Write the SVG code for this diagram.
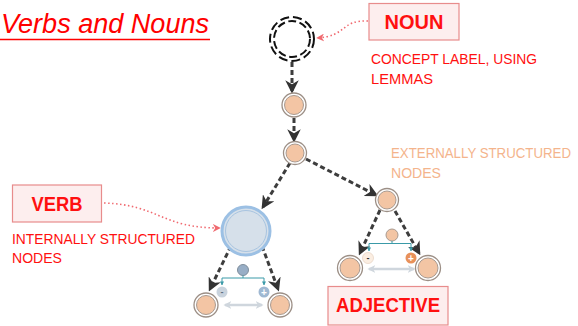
<svg xmlns="http://www.w3.org/2000/svg" width="578" height="326" viewBox="0 0 578 326">
  <defs>
    <marker id="ah" viewBox="0 0 10 10" refX="8" refY="5" markerWidth="4.5" markerHeight="4.5" orient="auto" markerUnits="strokeWidth">
      <path d="M0,0 L10,5 L0,10 L3,5 Z" fill="#333333"/>
    </marker>
    <marker id="ahr" viewBox="0 0 10 10" refX="9" refY="5" markerWidth="8" markerHeight="8" orient="auto" markerUnits="userSpaceOnUse">
      <path d="M0,0 L10,5 L0,10 L3,5 Z" fill="#f06a70"/>
    </marker>
    <marker id="aht" viewBox="0 0 10 10" refX="9" refY="5" markerWidth="4" markerHeight="4" orient="auto" markerUnits="userSpaceOnUse">
      <path d="M0,0 L10,5 L0,10 Z" fill="#3a9aa8"/>
    </marker>
    <marker id="ahg" viewBox="0 0 10 10" refX="8" refY="5" markerWidth="8" markerHeight="8" orient="auto-start-reverse" markerUnits="userSpaceOnUse">
      <path d="M0,0 L10,5 L0,10 L3,5 Z" fill="#cfd6dd"/>
    </marker>
  </defs>
  <style>
    .lbl { font-family: "Liberation Sans", Arial, sans-serif; fill: #ff1010; }
    .box { fill: #fdeeee; stroke: #e88c8c; stroke-width: 1.2; }
    .head { font-weight: bold; font-size: 20px; text-anchor: middle; }
    .note { font-size: 15.5px; }
    .edge { fill: none; stroke: #3d3d3d; stroke-width: 3; stroke-dasharray: 5 3; marker-end: url(#ah); }
    .ptr { fill: none; stroke: #f06a70; stroke-width: 1.6; stroke-dasharray: 1.5 2.5; marker-end: url(#ahr); }
    .ring { fill: #ffffff; stroke: #9c8f86; stroke-width: 1.3; }
    .core { fill: #f3c5a4; stroke: #a99a90; stroke-width: 1; }
    .brk { fill: none; stroke: #3a9aa8; stroke-width: 1; }
    .dbl { fill: none; stroke: #cfd6dd; stroke-width: 2.5; marker-start: url(#ahg); marker-end: url(#ahg); }
    .ext { font-family: "Liberation Sans", Arial, sans-serif; font-size: 13.5px; fill: #f4b48c; }
  </style>

  <!-- title -->
  <text x="1" y="33" font-family="Liberation Sans, Arial, sans-serif" font-style="italic" font-size="27" fill="#ff0000" textLength="208" lengthAdjust="spacingAndGlyphs">Verbs and Nouns</text>
  <line x1="0" y1="39.5" x2="210" y2="39.5" stroke="#ff0000" stroke-width="1.6"/>

  <!-- connectors -->
  <g id="connectors">
    <path class="edge" d="M292,62 L292,91"/>
    <path class="edge" d="M294,118 L294,140"/>
    <path class="edge" d="M290,163 L263,207"/>
    <path class="edge" d="M306,159 L376,195"/>
    <path class="edge" d="M231,246 L210,289"/>
    <path class="edge" d="M262,246 L278,289"/>
    <path class="edge" d="M380,210 L360,253"/>
    <path class="edge" d="M395,211 L419,253"/>
    <path class="ptr" d="M368,21 C340,20 348,36 317,38"/>
    <path class="ptr" d="M104,203 C160,205 160,228 220,228"/>
  </g>

  <!-- noun concept (dashed) -->
  <g id="noun-concept">
    <circle cx="292" cy="39" r="22" fill="none" stroke="#111" stroke-width="2" stroke-dasharray="9 4"/>
    <circle cx="292" cy="39" r="18" fill="none" stroke="#111" stroke-width="2" stroke-dasharray="8 3.5"/>
  </g>

  <g id="node-a">
    <circle class="ring" cx="294" cy="105" r="12"/>
    <circle class="core" cx="294" cy="105" r="9.5"/>
  </g>
  <g id="node-b">
    <circle class="ring" cx="295" cy="153" r="11.5"/>
    <circle class="core" cx="295" cy="153" r="9" fill="#f0cdb3"/>
  </g>

  <!-- verb: internally structured node -->
  <g id="verb-node">
    <circle cx="246" cy="231" r="24" fill="#d6e0ea" stroke="#9cc0e4" stroke-width="3"/>
    <circle cx="246" cy="231" r="20.5" fill="none" stroke="#a8c4e0" stroke-width="1"/>
  </g>
  <g id="verb-inner">
    <circle cx="243" cy="270" r="5.5" fill="#98aec6" stroke="#7f8e9c" stroke-width="1"/>
    <path class="brk" d="M243,275.5 L243,278 M222,283 L222,278 L264,278 L264,283"/>
    <path class="brk" d="M222,282 L222,285" marker-end="url(#aht)"/>
    <path class="brk" d="M264,282 L264,285" marker-end="url(#aht)"/>
    <circle cx="222" cy="292" r="5.5" fill="#c9d3dd"/>
    <text x="222" y="295" font-family="Liberation Sans, Arial, sans-serif" font-size="9" font-weight="bold" fill="#5f6f80" text-anchor="middle">-</text>
    <circle cx="264" cy="292" r="5.5" fill="#9fb8d2"/>
    <text x="264" y="295.5" font-family="Liberation Sans, Arial, sans-serif" font-size="10" font-weight="bold" fill="#ffffff" text-anchor="middle">+</text>
    <path class="dbl" d="M225,305 L262,305"/>
  </g>
  <g id="verb-left">
    <circle class="ring" cx="206" cy="305" r="12"/>
    <circle class="core" cx="206" cy="305" r="9.5"/>
  </g>
  <g id="verb-right">
    <circle class="ring" cx="280" cy="305" r="12"/>
    <circle class="core" cx="280" cy="305" r="9.5"/>
  </g>

  <!-- adjective: externally structured -->
  <g id="adj-node">
    <circle class="ring" cx="387" cy="200" r="11.5"/>
    <circle class="core" cx="387" cy="200" r="9"/>
  </g>
  <g id="adj-inner">
    <circle cx="392" cy="235" r="6" fill="#f3c5a4" stroke="#a99a90" stroke-width="1"/>
    <path class="brk" d="M392,241 L392,243.5 M369,249 L369,243.5 L411,243.5 L411,249"/>
    <path class="brk" d="M369,248 L369,251" marker-end="url(#aht)"/>
    <path class="brk" d="M411,248 L411,251" marker-end="url(#aht)"/>
    <circle cx="368" cy="258" r="5.5" fill="#fbeee2" stroke="#e8d6c6" stroke-width="0.8"/>
    <text x="368" y="261" font-family="Liberation Sans, Arial, sans-serif" font-size="9" font-weight="bold" fill="#333" text-anchor="middle">-</text>
    <circle cx="411" cy="258" r="5.5" fill="#e8915a"/>
    <text x="411" y="261.5" font-family="Liberation Sans, Arial, sans-serif" font-size="10" font-weight="bold" fill="#ffffff" text-anchor="middle">+</text>
    <path class="dbl" d="M369,269 L414,269"/>
  </g>
  <g id="adj-left">
    <circle class="ring" cx="350" cy="268" r="12.5"/>
    <circle class="core" cx="350" cy="268" r="10"/>
  </g>
  <g id="adj-right">
    <circle class="ring" cx="428" cy="268" r="12.5"/>
    <circle class="core" cx="428" cy="268" r="10"/>
  </g>

  <!-- labels -->
  <g id="noun-label">
    <rect class="box" x="369" y="3.5" width="90" height="36.5"/>
    <text class="lbl head" x="414" y="28.5">NOUN</text>
    <text class="lbl note" x="371" y="64" textLength="166" lengthAdjust="spacingAndGlyphs">CONCEPT LABEL, USING</text>
    <text class="lbl note" x="371" y="84" textLength="62" lengthAdjust="spacingAndGlyphs">LEMMAS</text>
  </g>
  <g id="verb-label">
    <rect class="box" x="12.5" y="185" width="89" height="37"/>
    <text class="lbl head" x="57" y="210.5" textLength="51" lengthAdjust="spacingAndGlyphs">VERB</text>
    <text class="lbl note" x="12" y="244" textLength="183" lengthAdjust="spacingAndGlyphs">INTERNALLY STRUCTURED</text>
    <text class="lbl note" x="12" y="263" textLength="50" lengthAdjust="spacingAndGlyphs">NODES</text>
  </g>
  <g id="ext-label">
    <text class="ext" transform="translate(391,158) scale(1,1.15)" x="0" y="0" textLength="180" lengthAdjust="spacingAndGlyphs">EXTERNALLY STRUCTURED</text>
    <text class="ext" transform="translate(391,178) scale(1,1.15)" x="0" y="0" textLength="50" lengthAdjust="spacingAndGlyphs">NODES</text>
  </g>
  <g id="adj-label">
    <rect class="box" x="328" y="286.5" width="120" height="38.5"/>
    <text class="lbl head" x="388" y="312" textLength="104" lengthAdjust="spacingAndGlyphs">ADJECTIVE</text>
  </g>
</svg>
